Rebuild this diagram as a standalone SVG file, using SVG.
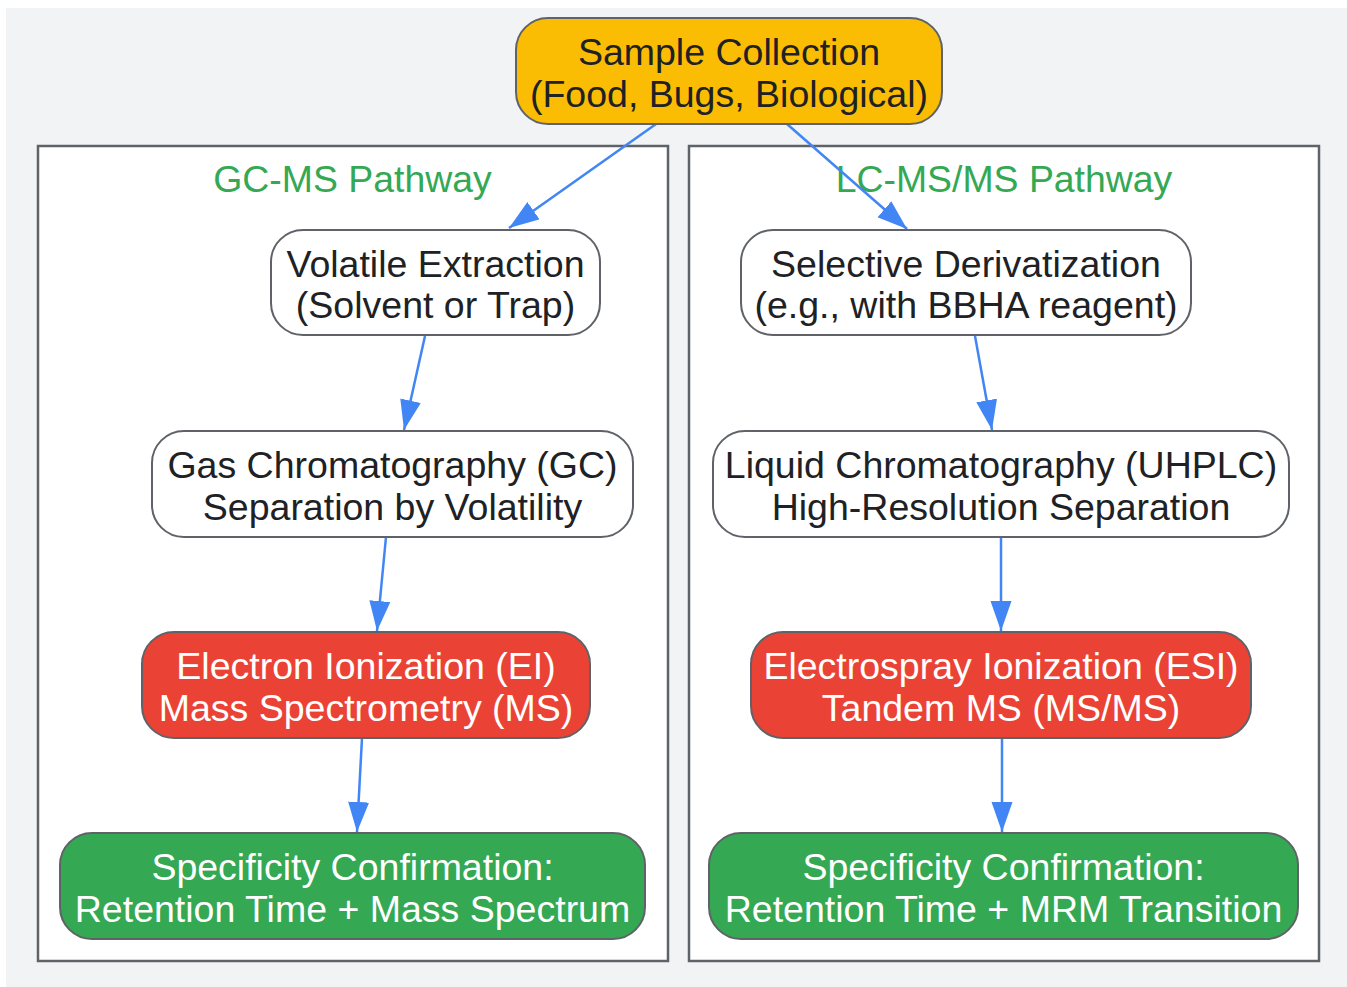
<svg xmlns="http://www.w3.org/2000/svg" width="1347" height="987" viewBox="0 0 1347 987">
<defs>
<style>
.bg{fill:#f1f3f4}
.cl{fill:#fff;stroke:#5f6368;stroke-width:2.5}
.ct{font-family:"Liberation Sans",Arial,sans-serif;font-size:37.4px;fill:#34a853;text-anchor:middle}
.n{stroke:#5f6368;stroke-width:2}
.w{fill:#fff}
.y{fill:#fbbc04}
.r{fill:#ea4335}
.g{fill:#34a853}
.t{font-family:"Liberation Sans",Arial,sans-serif;font-size:37.5px;text-anchor:middle;fill:#202124}
.tw{fill:#fff}
.e{stroke:#4285f4;stroke-width:2.5;fill:none}
</style>
<marker id="ah" markerUnits="userSpaceOnUse" markerWidth="31" markerHeight="22" refX="30" refY="10.5" orient="auto">
<path d="M0,0 L30,10.5 L0,21 z" fill="#4285f4"/>
</marker>
</defs>
<rect class="bg" x="6" y="8" width="1341" height="979"/>
<g id="cluster_gc">
<rect class="cl" x="38" y="146" width="630" height="815"/>
<text class="ct" x="352.5" y="192">GC-MS Pathway</text>
</g>
<g id="cluster_lc">
<rect class="cl" x="689" y="146" width="630" height="815"/>
<text class="ct" x="1004" y="192">LC-MS/MS Pathway</text>
</g>
<g id="edges">
<line class="e" x1="656" y1="124" x2="509" y2="228" marker-end="url(#ah)"/>
<line class="e" x1="787" y1="124" x2="907" y2="229" marker-end="url(#ah)"/>
<line class="e" x1="425" y1="336" x2="404" y2="430" marker-end="url(#ah)"/>
<line class="e" x1="386" y1="537" x2="377" y2="631" marker-end="url(#ah)"/>
<line class="e" x1="362" y1="738" x2="357" y2="832" marker-end="url(#ah)"/>
<line class="e" x1="975" y1="336" x2="992" y2="430" marker-end="url(#ah)"/>
<line class="e" x1="1001" y1="537" x2="1001" y2="631" marker-end="url(#ah)"/>
<line class="e" x1="1002" y1="738" x2="1002" y2="832" marker-end="url(#ah)"/>
</g>
<g id="sample">
<rect class="n y" x="516" y="18" width="426" height="106" rx="32"/>
<text class="t" x="729" y="65">Sample Collection</text>
<text class="t" x="729" y="107">(Food, Bugs, Biological)</text>
</g>
<g id="volatile">
<rect class="n w" x="271" y="230" width="329" height="105" rx="32"/>
<text class="t" x="435.5" y="277">Volatile Extraction</text>
<text class="t" x="435.5" y="318">(Solvent or Trap)</text>
</g>
<g id="gc">
<rect class="n w" x="152" y="431" width="481" height="106" rx="32"/>
<text class="t" x="392.5" y="478">Gas Chromatography (GC)</text>
<text class="t" x="392.5" y="520">Separation by Volatility</text>
</g>
<g id="ei">
<rect class="n r" x="142" y="632" width="448" height="106" rx="32"/>
<text class="t tw" x="366" y="679">Electron Ionization (EI)</text>
<text class="t tw" x="366" y="721">Mass Spectrometry (MS)</text>
</g>
<g id="spec_gc">
<rect class="n g" x="60" y="833" width="585" height="106" rx="32"/>
<text class="t tw" x="352.5" y="880">Specificity Confirmation:</text>
<text class="t tw" x="352.5" y="922">Retention Time + Mass Spectrum</text>
</g>
<g id="deriv">
<rect class="n w" x="741" y="230" width="450" height="105" rx="32"/>
<text class="t" x="966" y="277">Selective Derivatization</text>
<text class="t" x="966" y="318">(e.g., with BBHA reagent)</text>
</g>
<g id="lc">
<rect class="n w" x="713" y="431" width="576" height="106" rx="32"/>
<text class="t" x="1001" y="478">Liquid Chromatography (UHPLC)</text>
<text class="t" x="1001" y="520">High-Resolution Separation</text>
</g>
<g id="esi">
<rect class="n r" x="751" y="632" width="500" height="106" rx="32"/>
<text class="t tw" x="1001" y="679">Electrospray Ionization (ESI)</text>
<text class="t tw" x="1001" y="721">Tandem MS (MS/MS)</text>
</g>
<g id="spec_lc">
<rect class="n g" x="709" y="833" width="589" height="106" rx="32"/>
<text class="t tw" x="1003.5" y="880">Specificity Confirmation:</text>
<text class="t tw" x="1003.5" y="922">Retention Time + MRM Transition</text>
</g>
</svg>
